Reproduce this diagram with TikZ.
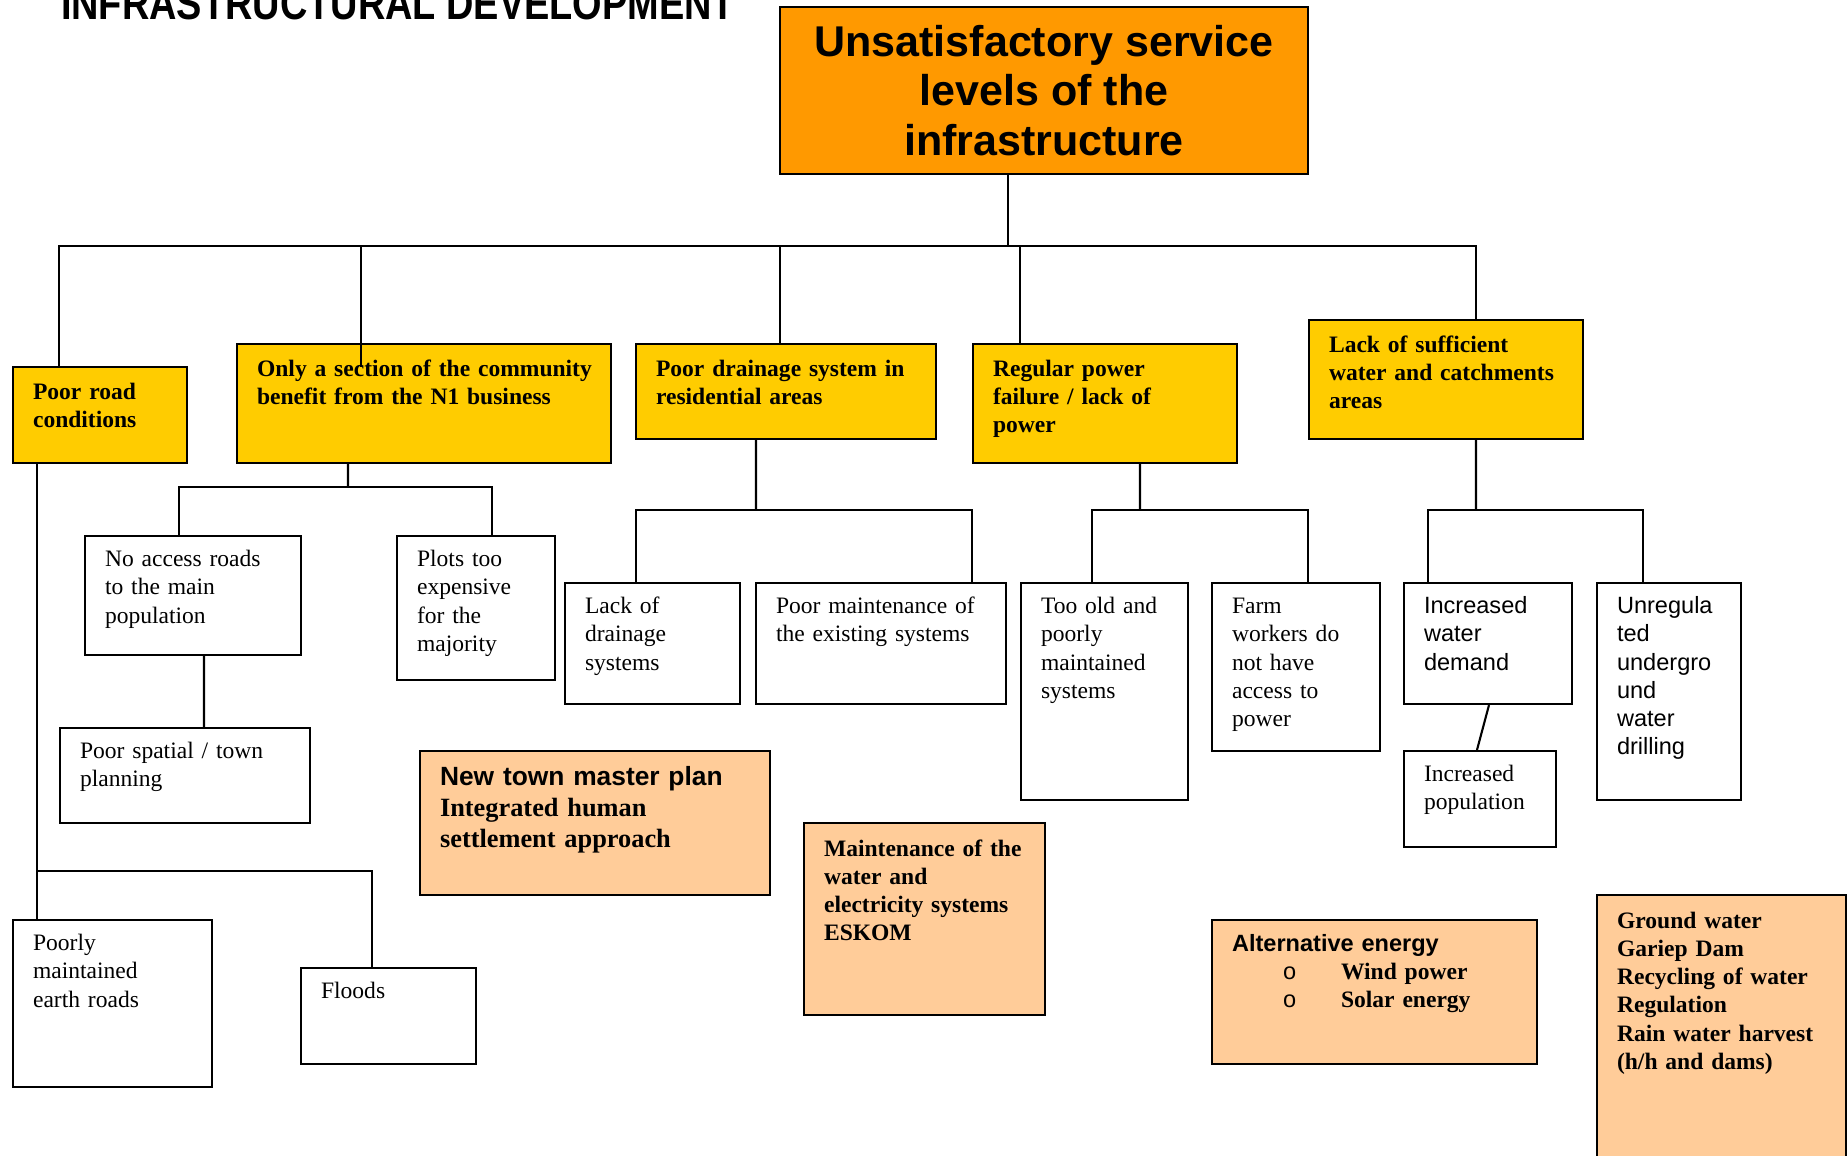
\documentclass[tikz,border=0pt]{standalone}
\usepackage{fontspec}
\setmainfont{Liberation Serif}
\setsansfont{Liberation Sans}
\usepackage{graphicx}
\usepackage{tikz}
\usetikzlibrary{positioning, calc}
\definecolor{coreOrange}{HTML}{FF9900}
\definecolor{probYellow}{HTML}{FFCC00}
\definecolor{fixPeach}{HTML}{FFCC99}

\begin{document}
\begin{tikzpicture}[
    x=0.02cm, y=-0.02cm, line width=1.2pt,
    cause/.style={rectangle, draw=black, fill=white, anchor=north west,
                  align=left, inner xsep=0.4cm, inner ysep=0pt,
                  text height=0.61cm, font=\fontsize{13.4}{16.1}\selectfont},
    sanscause/.style={cause, font=\fontsize{13.4}{16.1}\selectfont\sffamily},
    problem/.style={cause, fill=probYellow, text height=0.64cm,
                    font=\fontsize{13.4}{16.1}\selectfont\bfseries},
    remedy/.style={cause, fill=fixPeach, text height=0.66cm,
                   font=\fontsize{13.4}{16.1}\selectfont\bfseries},
    core/.style={rectangle, draw=black, fill=coreOrange, align=center,
                 minimum width=10.56cm, minimum height=3.34cm, inner sep=0pt,
                 font=\fontsize{24.5}{28.2}\selectfont\sffamily\bfseries},
  ]
    \useasboundingbox (0,0) rectangle (1847,1156);
    \clip (0,0) rectangle (1847,1156);

    \node[anchor=base west, inner sep=0pt, font=\fontsize{26}{30}\selectfont\sffamily\bfseries] (title) at (60,19)
      {\scalebox{0.83}[1]{INFRASTRUCTURAL DEVELOPMENT}};
    \node[core] (core) at (1044,90.5) {Unsatisfactory service\\levels of the\\infrastructure};

    % main problems
    \node[problem, text width=2.68cm, text depth=1.28cm] (road) at (12,366) {Poor road\\conditions};
    \node[problem, text width=6.68cm, text depth=1.74cm] (n1) at (236,343) {\mbox{Only a section of the community}\\benefit from the N1 business};
    \node[problem, text width=5.2cm, text depth=1.26cm] (drain) at (635,343) {Poor drainage system in\\residential areas};
    \node[problem, text width=4.48cm, text depth=1.74cm] (power) at (972,343) {Regular power\\failure / lack of\\power};
    \node[problem, text width=4.68cm, text depth=1.74cm] (water) at (1308,319) {Lack of sufficient\\water and catchments\\areas};

    % causes
    \node[cause, text width=3.52cm, text depth=1.77cm] (noaccess) at (84,535) {No access roads\\to the main\\population};
    \node[cause, text width=2.36cm, text depth=2.27cm] (plots) at (396,535) {Plots too\\expensive\\for the\\majority};
    \node[cause, text width=4.2cm, text depth=1.29cm] (spatial) at (59,727) {Poor spatial / town\\planning};
    \node[cause, text width=3.18cm, text depth=2.73cm] (poorly) at (12,919) {Poorly\\maintained\\earth roads};
    \node[cause, text width=2.7cm, text depth=1.31cm] (floods) at (300,967) {Floods};
    \node[cause, text width=2.7cm, text depth=1.81cm] (lackdrain) at (564,582) {Lack of\\drainage\\systems};
    \node[cause, text width=4.2cm, text depth=1.81cm] (poormaint) at (755,582) {Poor maintenance of\\the existing systems};
    \node[cause, text width=2.54cm, text depth=3.73cm] (tooold) at (1020,582) {Too old and\\poorly\\maintained\\systems};
    \node[cause, text width=2.56cm, text depth=2.75cm] (farm) at (1211,582) {Farm\\workers do\\not have\\access to\\power};
    \node[sanscause, text width=2.56cm, text depth=1.81cm] (incwater) at (1403,582) {Increased\\water\\demand};
    \node[cause, text width=2.24cm, text depth=1.31cm] (incpop) at (1403,750) {Increased\\population};
    \node[sanscause, text width=2.08cm, text depth=3.73cm] (unreg) at (1596,582) {Unregula\\ted\\undergro\\und\\water\\drilling};

    % remedies
    \node[remedy, text width=6.2cm, text height=0.68cm, text depth=2.2cm,
          font=\fontsize{15}{17.7}\selectfont\bfseries] (newtown) at (419,750)
      {{\sffamily New town master plan}\\Integrated human\\settlement approach};
    \node[remedy, text width=4.02cm, text depth=3.18cm] (maint) at (803,822)
      {Maintenance of the\\water and\\electricity systems\\ESKOM};
    \node[remedy, text width=5.7cm, text height=0.62cm, text depth=2.26cm] (altenergy) at (1211,919)
      {{\sffamily Alternative energy}\\
       \makebox[2.18cm][l]{\hspace*{1.02cm}{\sffamily\mdseries o}}Wind power\\
       \makebox[2.18cm][l]{\hspace*{1.02cm}{\sffamily\mdseries o}}Solar energy};
    \node[remedy, text width=4.18cm, text depth=5.46cm] (ground) at (1596,894)
      {Ground water\\Gariep Dam\\Recycling of water\\Regulation\\Rain water harvest\\(h/h and dams)};

    % tree lines
    \coordinate (topbus) at (1008,246);
    \draw (core.south -| topbus) -- (topbus);
    \draw ([xshift=0.94cm]road.north west) |- (topbus) -| ([xshift=3.36cm]water.north west);
    \draw ([xshift=2.5cm,yshift=-0.48cm]n1.north west) |- (topbus);
    \draw ([xshift=2.9cm]drain.north west) |- (topbus);
    \draw ([xshift=0.96cm]power.north west) |- (topbus);

    \coordinate (n1bus) at (348,487);
    \draw ([xshift=2.24cm]n1.south west) -- (n1bus);
    \draw ([xshift=1.9cm]noaccess.north west) |- (n1bus) -| ([xshift=1.92cm]plots.north west);
    \draw ([xshift=2.4cm]noaccess.south west) -- ([xshift=2.9cm]spatial.north west);

    \coordinate (roadbus) at (37,871);
    \draw ([xshift=0.5cm]road.south west) -- ([xshift=0.5cm]poorly.north west);
    \draw (roadbus) -| ([xshift=1.44cm]floods.north west);

    \coordinate (drainbus) at (756,510);
    \draw ([xshift=2.42cm]drain.south west) -- (drainbus);
    \draw ([xshift=1.44cm]lackdrain.north west) |- (drainbus) -| ([xshift=4.34cm]poormaint.north west);

    \coordinate (powerbus) at (1140,510);
    \draw ([xshift=3.36cm]power.south west) -- (powerbus);
    \draw ([xshift=1.44cm]tooold.north west) |- (powerbus) -| ([xshift=1.94cm]farm.north west);

    \coordinate (waterbus) at (1476,510);
    \draw ([xshift=3.36cm]water.south west) -- (waterbus);
    \draw ([xshift=0.5cm]incwater.north west) |- (waterbus) -| ([xshift=0.94cm]unreg.north west);
    \draw ([xshift=1.72cm]incwater.south west) -- ([xshift=1.48cm]incpop.north west);
  \end{tikzpicture}
\end{document}
